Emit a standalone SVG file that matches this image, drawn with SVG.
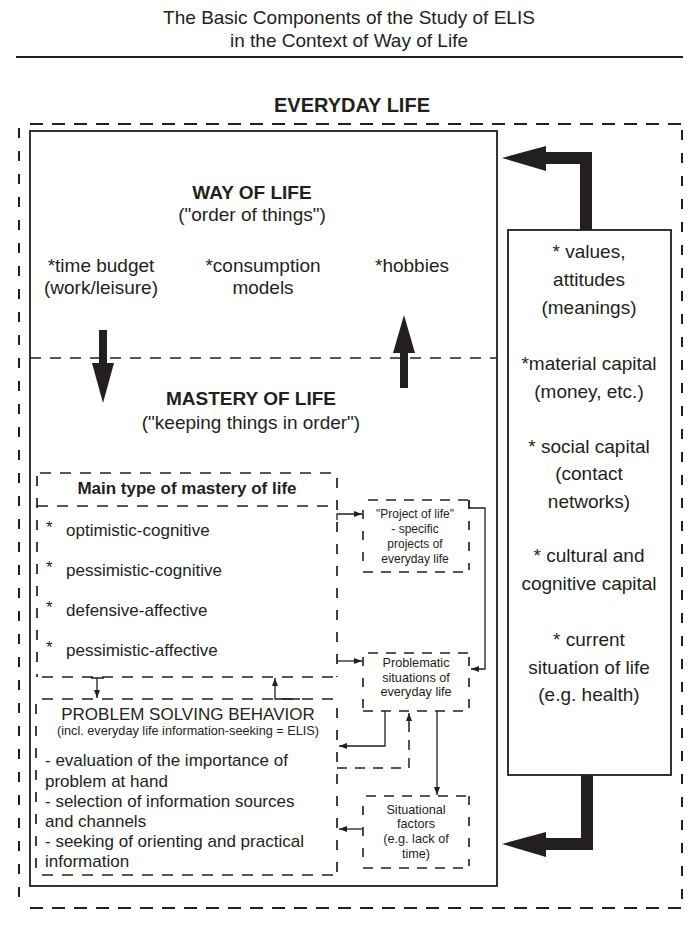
<svg xmlns="http://www.w3.org/2000/svg" width="699" height="925" viewBox="0 0 699 925">
<style>
text{font-family:"Liberation Sans",Arial,Helvetica,sans-serif;fill:#231f20}
.c{text-anchor:middle}
.b{font-weight:bold}
.t19{font-size:19px}
.t17{font-size:17px}
.t13{font-size:12.7px}
.t12{font-size:12px}
.solid{fill:none;stroke:#231f20;stroke-width:1.8}
.oh{stroke:#231f20;stroke-width:2;stroke-dasharray:13 9;fill:none}
.ov{stroke:#231f20;stroke-width:2;stroke-dasharray:10 13;fill:none}
.dh{stroke:#231f20;stroke-width:1.7;stroke-dasharray:11 9;fill:none}
.dv{stroke:#231f20;stroke-width:1.7;stroke-dasharray:10 12;fill:none}
.sh{stroke:#231f20;stroke-width:1.6;stroke-dasharray:10 8;fill:none}
.sv{stroke:#231f20;stroke-width:1.6;stroke-dasharray:9 12;fill:none}
.ln{stroke:#231f20;stroke-width:1.3;fill:none}
.lnd{stroke:#231f20;stroke-width:1.5;fill:none;stroke-dasharray:10 8}
.fat{stroke:#231f20;stroke-width:12;fill:none;stroke-linejoin:miter}
.head{fill:#231f20;stroke:none}
</style>
<defs>
<marker id="ah" markerUnits="userSpaceOnUse" markerWidth="8" markerHeight="6" refX="8" refY="3" orient="auto">
<path d="M0,0 L8,3 L0,6 z" fill="#231f20"/>
</marker>
</defs>

<g id="title">
<text class="c t19" x="349" y="24">The Basic Components of the Study of ELIS</text>
<text class="c t19" x="349" y="47">in the Context of Way of Life</text>
<line x1="16" y1="57" x2="683" y2="57" stroke="#231f20" stroke-width="2"/>
</g>

<g id="everyday-life">
<text class="c b" x="352" y="112" font-size="20">EVERYDAY LIFE</text>
<line class="oh" x1="30" y1="124" x2="683" y2="124"/>
<line class="ov" x1="19" y1="128" x2="19" y2="906"/>
<line class="ov" x1="682" y1="130" x2="682" y2="908"/>
<line class="oh" x1="30" y1="908" x2="683" y2="908"/>
</g>

<g id="main-box">
<rect class="solid" x="30" y="131" width="467" height="755"/>
<line class="dh" x1="30" y1="358" x2="497" y2="358"/>
</g>

<g id="way-of-life">
<text class="c b t19" x="252" y="199">WAY OF LIFE</text>
<text class="c t19" x="252" y="221">("order of things")</text>
<text class="c t19" x="101" y="272">*time budget</text>
<text class="c t19" x="101" y="294">(work/leisure)</text>
<text class="c t19" x="263" y="272">*consumption</text>
<text class="c t19" x="263" y="294">models</text>
<text class="c t19" x="412" y="272">*hobbies</text>
</g>

<g id="mastery-of-life">
<text class="c b t19" x="251" y="405">MASTERY OF LIFE</text>
<text class="c t19" x="251" y="429">("keeping things in order")</text>
</g>

<g id="main-type">
<line class="dh" x1="40" y1="473" x2="337" y2="473"/>
<line class="dh" x1="37" y1="506" x2="337" y2="506"/>
<line class="dv" x1="37" y1="476" x2="37" y2="677"/>
<line class="dv" x1="337" y1="478" x2="337" y2="677"/>
<line class="dh" x1="42" y1="677" x2="337" y2="677"/>
<text class="c b t17" x="187" y="494">Main type of mastery of life</text>
<text class="t17" x="46" y="533">*</text><text class="t17" x="66" y="536">optimistic-cognitive</text>
<text class="t17" x="46" y="573">*</text><text class="t17" x="66" y="576">pessimistic-cognitive</text>
<text class="t17" x="46" y="613">*</text><text class="t17" x="66" y="616">defensive-affective</text>
<text class="t17" x="46" y="653">*</text><text class="t17" x="66" y="656">pessimistic-affective</text>
</g>

<g id="problem-solving">
<line class="dh" x1="42" y1="699" x2="337" y2="699"/>
<line class="dv" x1="36" y1="704" x2="36" y2="875"/>
<line class="dv" x1="337" y1="708" x2="337" y2="875"/>
<line class="dh" x1="42" y1="875" x2="337" y2="875"/>
<text class="c t17" x="188" y="720">PROBLEM SOLVING BEHAVIOR</text>
<text class="c t13" x="188" y="735">(incl. everyday life information-seeking = ELIS)</text>
<text class="t17" x="45" y="766">- evaluation of the importance of</text>
<text class="t17" x="45" y="787">problem at hand</text>
<text class="t17" x="45" y="807">- selection of information sources</text>
<text class="t17" x="45" y="827">and channels</text>
<text class="t17" x="45" y="847">- seeking of orienting and practical</text>
<text class="t17" x="45" y="867">information</text>
</g>

<g id="project-of-life">
<line class="sh" x1="368" y1="500" x2="469" y2="500"/>
<line class="sv" x1="363" y1="510" x2="363" y2="572"/>
<line class="sv" x1="469" y1="500" x2="469" y2="570"/>
<line class="sh" x1="363" y1="572" x2="469" y2="572"/>
<text class="c t12" x="415" y="518">"Project of life"</text>
<text class="c t12" x="415" y="533">- specific</text>
<text class="c t12" x="415" y="548">projects of</text>
<text class="c t12" x="415" y="563">everyday life</text>
</g>

<g id="problematic-situations">
<line class="sh" x1="368" y1="653" x2="469" y2="653"/>
<line class="sv" x1="363" y1="657" x2="363" y2="711"/>
<line class="sv" x1="469" y1="657" x2="469" y2="711"/>
<line class="sh" x1="363" y1="711" x2="469" y2="711"/>
<text class="c t13" x="416" y="667">Problematic</text>
<text class="c t13" x="416" y="682">situations of</text>
<text class="c t13" x="416" y="696">everyday life</text>
</g>

<g id="situational-factors">
<line class="sh" x1="366" y1="796" x2="469" y2="796"/>
<line class="sv" x1="363" y1="806" x2="363" y2="868"/>
<line class="sv" x1="469" y1="796" x2="469" y2="866"/>
<line class="sh" x1="363" y1="868" x2="469" y2="868"/>
<text class="c t13" x="416" y="814">Situational</text>
<text class="c t13" x="416" y="828">factors</text>
<text class="c t13" x="416" y="843">(e.g. lack of</text>
<text class="c t13" x="416" y="858">time)</text>
</g>

<g id="resources">
<rect class="solid" x="508" y="230" width="163" height="545"/>
<text class="c t19" x="589" y="258">* values,</text>
<text class="c t19" x="589" y="286">attitudes</text>
<text class="c t19" x="589" y="314">(meanings)</text>
<text class="c t19" x="589" y="370">*material capital</text>
<text class="c t19" x="589" y="398">(money, etc.)</text>
<text class="c t19" x="589" y="453">* social capital</text>
<text class="c t19" x="589" y="480">(contact</text>
<text class="c t19" x="589" y="508">networks)</text>
<text class="c t19" x="589" y="562">* cultural and</text>
<text class="c t19" x="589" y="590">cognitive capital</text>
<text class="c t19" x="589" y="646">* current</text>
<text class="c t19" x="589" y="674">situation of life</text>
<text class="c t19" x="589" y="701">(e.g. health)</text>
</g>

<g id="connectors">
<!-- way of life -> mastery -->
<line x1="103" y1="330" x2="103" y2="366" stroke="#231f20" stroke-width="8"/>
<polygon class="head" points="92,363 114,363 103,403"/>
<!-- mastery -> way of life -->
<line x1="404" y1="388" x2="404" y2="350" stroke="#231f20" stroke-width="8"/>
<polygon class="head" points="393,353 415,353 404,315"/>
<!-- resources -> way of life -->
<path class="fat" d="M586,230 V158 H544"/>
<polygon class="head" points="546,146 546,171 502,158"/>
<!-- resources -> mastery -->
<path class="fat" d="M587,775 V844 H544"/>
<polygon class="head" points="546,832 546,857 502,844"/>
<!-- main type -> project of life -->
<path class="ln" d="M337,520 V514 H362" marker-end="url(#ah)"/>
<!-- project of life -> problematic -->
<path class="ln" d="M469,500 V508 H485 V669 H471" marker-end="url(#ah)"/>
<!-- main type -> problematic -->
<path class="ln" d="M337,661 H362" marker-end="url(#ah)"/>
<!-- problematic -> problem solving -->
<path class="ln" d="M385,711 V746 H339" marker-end="url(#ah)"/>
<!-- problem solving -> problematic (dashed) -->
<path class="lnd" d="M337,768 H409 V720"/>
<path class="ln" d="M409,722 V713" marker-end="url(#ah)"/>
<!-- problematic -> situational -->
<path class="ln" d="M437,711 V795" marker-end="url(#ah)"/>
<!-- situational -> problem solving -->
<path class="ln" d="M362,829 H339" marker-end="url(#ah)"/>
<!-- main type -> problem solving -->
<path class="ln" d="M91,678 H104 M97,678 V698" marker-end="url(#ah)"/>
<!-- problem solving -> main type -->
<path class="ln" d="M300,699 H275 V678" marker-end="url(#ah)"/>
</g>
</svg>
